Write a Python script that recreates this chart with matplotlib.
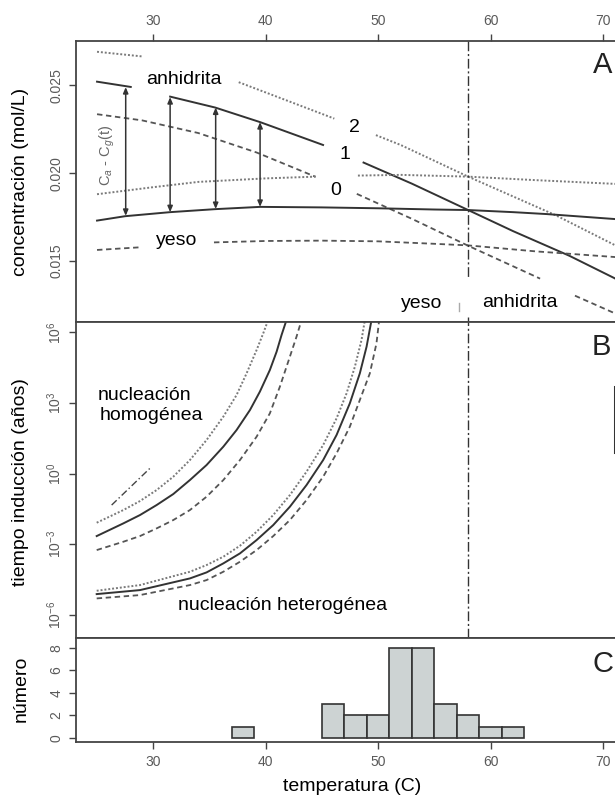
import numpy as np
import matplotlib
matplotlib.use("Agg")
import matplotlib.pyplot as plt
from matplotlib.ticker import FixedLocator, NullLocator

plt.rcParams['font.family'] = ['Liberation Sans', 'DejaVu Sans']
plt.rcParams['mathtext.fontset'] = 'custom'
plt.rcParams['mathtext.rm'] = 'Liberation Sans'
plt.rcParams['mathtext.it'] = 'Liberation Sans:italic'

nan = np.nan

# ---------------- Panel A data (concentración, mol/L) ----------------
# anhidrita curves (labels 2 = dotted, 1 = solid, 0 = dashed); nan = gap for labels
anh2_T = [25, 29.1, nan, 37.6, 42.0, 46.1, nan, 49.8, 52.0, 58.0, 65.8, 71.0, 71.5]
anh2_C = [0.0269, 0.02663, nan, 0.02517, 0.0241, 0.0231, nan, 0.02216, 0.0216, 0.0198, 0.0176, 0.01592, 0.01576]
anh1_T = [25, 28.0, nan, 31.5, 35.5, 39.5, 45.1, nan, 48.7, 53.0, 58.0, 62.0, 67.0, 71.0, 71.5]
anh1_C = [0.0252, 0.0249, nan, 0.02435, 0.02373, 0.0229, 0.0216, nan, 0.0206, 0.0194, 0.0179, 0.0167, 0.0153, 0.01403, 0.01385]
anh0_T = [25, 29.0, 34.0, 39.2, 44.4, nan, 48.1, 53.0, 58.0, 64.4, nan, 67.5, 71.0, 71.5]
anh0_C = [0.02335, 0.0230, 0.02228, 0.02117, 0.0198, nan, 0.01882, 0.0174, 0.01587, 0.0140, nan, 0.01303, 0.01204, 0.0119]
# yeso curves
yes2_T = [25, 30, 34, 40, 44.5, nan, 48.2, 52, 58, 64, 71.0, 71.5]
yes2_C = [0.0188, 0.0192, 0.0195, 0.0197, 0.0198, nan, 0.01986, 0.0199, 0.0198, 0.0196, 0.01939, 0.01937]
yes1_T = [25, 27.5, 31.5, 35.5, 39.5, 45, 50, 55, 58, 62, 65, 71.0, 71.5]
yes1_C = [0.0173, 0.01755, 0.01778, 0.01795, 0.01808, 0.01805, 0.0180, 0.01793, 0.0179, 0.01778, 0.01767, 0.01739, 0.01736]
yes0_T = [25, 28.8, nan, 35.4, 40, 45, 50, 55, 58, 64, 71.0, 71.5]
yes0_C = [0.01563, 0.01578, nan, 0.01606, 0.01614, 0.01616, 0.01612, 0.01598, 0.01589, 0.01555, 0.01523, 0.0152]
# double arrows C_a - C_g(t)
arrow_T = [27.55, 31.5, 35.55, 39.5]
arrow_top = [0.02489, 0.02432, 0.02373, 0.0229]
arrow_bot = [0.01757, 0.01778, 0.01796, 0.01808]
T_transition = 58.0

# ---------------- Panel B data (tiempo inducción, exponent log10 años) ----------------
hom_dot_T = [24.97, 27.34, 28.82, 30.30, 31.78, 33.26, 34.74, 36.23, 37.41, 38.30, 39.19, 39.78, 40.22, 40.3]
hom_dot_L = [-2.09, -1.552, -1.169, -0.702, -0.135, 0.573, 1.423, 2.415, 3.336, 4.256, 5.248, 5.956, 6.523, 6.65]
hom_sol_T = [24.97, 27.34, 28.82, 30.30, 31.78, 33.26, 34.74, 36.23, 37.41, 38.60, 39.48, 40.37, 40.97, 41.41, 41.85, 41.95]
hom_sol_L = [-2.657, -2.118, -1.764, -1.339, -0.872, -0.277, 0.361, 1.140, 1.848, 2.698, 3.477, 4.398, 5.177, 5.886, 6.523, 6.65]
hom_das_T = [24.97, 27.34, 28.82, 30.30, 31.78, 33.26, 34.74, 36.23, 37.71, 39.19, 40.37, 41.26, 42.15, 42.74, 43.19, 43.3]
hom_das_L = [-3.252, -2.898, -2.657, -2.331, -1.977, -1.552, -0.985, -0.277, 0.573, 1.565, 2.557, 3.690, 4.965, 5.815, 6.523, 6.65]
het_dot_T = [24.97, 28.82, 33.26, 34.74, 36.23, 37.71, 39.19, 40.67, 42.15, 43.63, 45.11, 46.30, 47.19, 47.93, 48.52, 48.82, 48.9]
het_dot_L = [-4.980, -4.739, -4.173, -3.889, -3.535, -3.068, -2.473, -1.764, -0.914, 0.077, 1.211, 2.344, 3.406, 4.540, 5.673, 6.523, 6.65]
het_sol_T = [24.97, 28.82, 33.26, 34.74, 36.23, 37.71, 39.19, 40.67, 42.15, 43.63, 45.11, 46.30, 47.48, 48.37, 48.97, 49.41, 49.5]
het_sol_L = [-5.122, -4.952, -4.456, -4.201, -3.818, -3.393, -2.827, -2.189, -1.410, -0.489, 0.573, 1.636, 2.981, 4.256, 5.390, 6.523, 6.65]
het_das_T = [24.97, 28.82, 33.26, 34.74, 36.23, 37.71, 39.19, 40.67, 42.15, 43.63, 45.11, 46.30, 47.48, 48.37, 49.26, 49.85, 50.09, 50.15]
het_das_L = [-5.306, -5.164, -4.739, -4.527, -4.173, -3.748, -3.252, -2.657, -1.977, -1.127, -0.135, 0.856, 1.990, 3.123, 4.256, 5.531, 6.523, 6.65]
extra_T = [26.3, 29.7]
extra_L = [-1.34, 0.22]

# ---------------- Panel C data (histograma) ----------------
bin_left = [37, 45, 47, 49, 51, 53, 55, 57, 59, 61]
bin_count = [1, 3, 2, 2, 8, 8, 3, 2, 1, 1]
bin_width = 2

x_ticks = [30, 40, 50, 60, 70]
yA_ticks = [0.015, 0.020, 0.025]
yA_labels = ['0.015', '0.020', '0.025']
yB_ticks = [1e-6, 1e-3, 1e0, 1e3, 1e6]
yB_exp = ['-6', '-3', '0', '3', '6']
yC_ticks = [0, 2, 4, 6, 8]

# ---------------- layout ----------------
W, H = 615, 796
fig = plt.figure(figsize=(W / 100, H / 100), dpi=100)
left_px, right_px = 76, 659.3
def ax_rect(top_px, bot_px):
    return [left_px / W, 1 - bot_px / H, (right_px - left_px) / W, (bot_px - top_px) / H]

axA = fig.add_axes(ax_rect(40.7, 321.7))
axB = fig.add_axes(ax_rect(321.7, 638.3))
axC = fig.add_axes(ax_rect(638.3, 742.0))

XLIM = (23.13, 75)
spine_c = '#444444'
tick_c = '#5a5a5a'
for ax in (axA, axB, axC):
    ax.set_xlim(*XLIM)
    for s in ax.spines.values():
        s.set_color(spine_c)
        s.set_linewidth(1.3)
    ax.tick_params(direction='out', length=5, width=1, color=spine_c,
                   labelsize=10, labelcolor=tick_c, pad=4)

dot_style = dict(color='#7a7a7a', linestyle=(0, (1, 1)), linewidth=1.4)
sol_style = dict(color='#333333', linestyle='-', linewidth=1.4)
das_style = dict(color='#555555', linestyle=(0, (3, 2)), linewidth=1.3)
dd_style = dict(color='#333333', linestyle=(0, (7, 2, 1.5, 2)), linewidth=1.0)

# ---------------- Panel A ----------------
axA.set_ylim(0.01155, 0.02753)
axA.plot(anh2_T, anh2_C, **dot_style)
axA.plot(anh1_T, anh1_C, **sol_style)
axA.plot(anh0_T, anh0_C, **das_style)
axA.plot(yes2_T, yes2_C, **dot_style)
axA.plot(yes1_T, yes1_C, **sol_style)
axA.plot(yes0_T, yes0_C, **das_style)
for t, top, bot in zip(arrow_T, arrow_top, arrow_bot):
    axA.annotate('', xy=(t, top), xytext=(t, bot),
                 arrowprops=dict(arrowstyle='<|-|>,head_length=0.35,head_width=0.15',
                                 color='#333333', lw=1.1, shrinkA=0, shrinkB=0))
axA.plot([T_transition, T_transition], [0.02753, 0.01405], **dd_style)
axA.plot([T_transition, T_transition], [0.0118, 0.01155], **dd_style)
axA.plot([57.15, 57.15], [0.01261, 0.01214], color='#aaaaaa', lw=1)

axA.xaxis.tick_top()
axA.set_xticks(x_ticks)
axA.set_yticks(yA_ticks)
axA.set_yticklabels(yA_labels)
axA.tick_params(axis='y', labelrotation=90)
for lab in axA.get_yticklabels():
    lab.set_va('center')

fs = 14
axA.text(29.41, 0.02507, 'anhidrita', fontsize=fs, ha='left', va='baseline')
axA.text(30.24, 0.01593, 'yeso', fontsize=fs, ha='left', va='baseline')
axA.text(47.42, 0.02233, '2', fontsize=fs, ha='left', va='baseline')
axA.text(46.53, 0.0208, '1', fontsize=fs, ha='left', va='baseline')
axA.text(45.7, 0.01873, '0', fontsize=fs, ha='left', va='baseline')
axA.text(52.0, 0.01235, 'yeso', fontsize=fs, ha='left', va='baseline')
axA.text(59.28, 0.01239, 'anhidrita', fontsize=fs, ha='left', va='baseline')
axA.text(25.9, 0.02104, r'C$_a$ - C$_g$(t)', fontsize=10.5, color='#666666',
         rotation=90, ha='center', va='center')
axA.text(69.06, 0.02572, 'A', fontsize=21, ha='left', va='baseline', color='#222222', clip_on=False)

# ---------------- Panel B ----------------
axB.set_yscale('log')
axB.set_ylim(1e-7, 10 ** 6.45)
def pw(a):
    return [10.0 ** v for v in a]
axB.plot(hom_dot_T, pw(hom_dot_L), **dot_style)
axB.plot(hom_sol_T, pw(hom_sol_L), **sol_style)
axB.plot(hom_das_T, pw(hom_das_L), **das_style)
axB.plot(het_dot_T, pw(het_dot_L), **dot_style)
axB.plot(het_sol_T, pw(het_sol_L), **sol_style)
axB.plot(het_das_T, pw(het_das_L), **das_style)
axB.plot(extra_T, pw(extra_L), color='#444444', linestyle=(0, (5, 2, 1, 2)), linewidth=1.0)
axB.axvline(T_transition, **dd_style)
axB.plot([71.05, 71.05], [10 ** 3.69, 10 ** 0.93], color='#333333', lw=2.2, clip_on=False)

axB.tick_params(axis='x', bottom=False, labelbottom=False)
axB.yaxis.set_major_locator(FixedLocator(yB_ticks))
axB.yaxis.set_minor_locator(NullLocator())
axB.set_yticks(yB_ticks)
axB.set_yticklabels([r'$\mathregular{10^{%s}}$' % e.replace('-', '\u2212') for e in yB_exp])
axB.tick_params(axis='y', labelrotation=90)
for lab in axB.get_yticklabels():
    lab.set_va('center')

axB.text(25.1, 10 ** 3.12, 'nucleación', fontsize=fs, ha='left', va='baseline')
axB.text(25.26, 10 ** 2.27, 'homogénea', fontsize=fs, ha='left', va='baseline')
axB.text(32.22, 10 ** -5.80, 'nucleación heterogénea', fontsize=fs, ha='left', va='baseline')
axB.text(69.0, 10 ** 5.04, 'B', fontsize=21, ha='left', va='baseline', color='#222222', clip_on=False)

# ---------------- Panel C ----------------
axC.set_ylim(-0.35, 8.83)
axC.bar(bin_left, bin_count, width=bin_width, align='edge', color='#cdd3d3',
        edgecolor='#333333', linewidth=1.2, zorder=2)
axC.set_xticks(x_ticks)
axC.set_yticks(yC_ticks)
axC.tick_params(axis='y', labelrotation=90)
for lab in axC.get_yticklabels():
    lab.set_va('center')
axC.text(69.1, 5.87, 'C', fontsize=21, ha='left', va='baseline', color='#222222', clip_on=False)

# ---------------- axis labels ----------------
fig.text(21 / W, 1 - 181.7 / H, 'concentración (mol/L)', rotation=90, fontsize=fs,
         ha='center', va='center')
fig.text(21 / W, 1 - 481.7 / H, 'tiempo inducción (años)', rotation=90, fontsize=fs,
         ha='center', va='center')
fig.text(21 / W, 1 - 689.2 / H, 'número', rotation=90, fontsize=fs,
         ha='center', va='center')
fig.text(351.7 / W, 1 - 786.7 / H, 'temperatura (C)', fontsize=fs, ha='center', va='center')

fig.savefig('out.png', dpi=100)
